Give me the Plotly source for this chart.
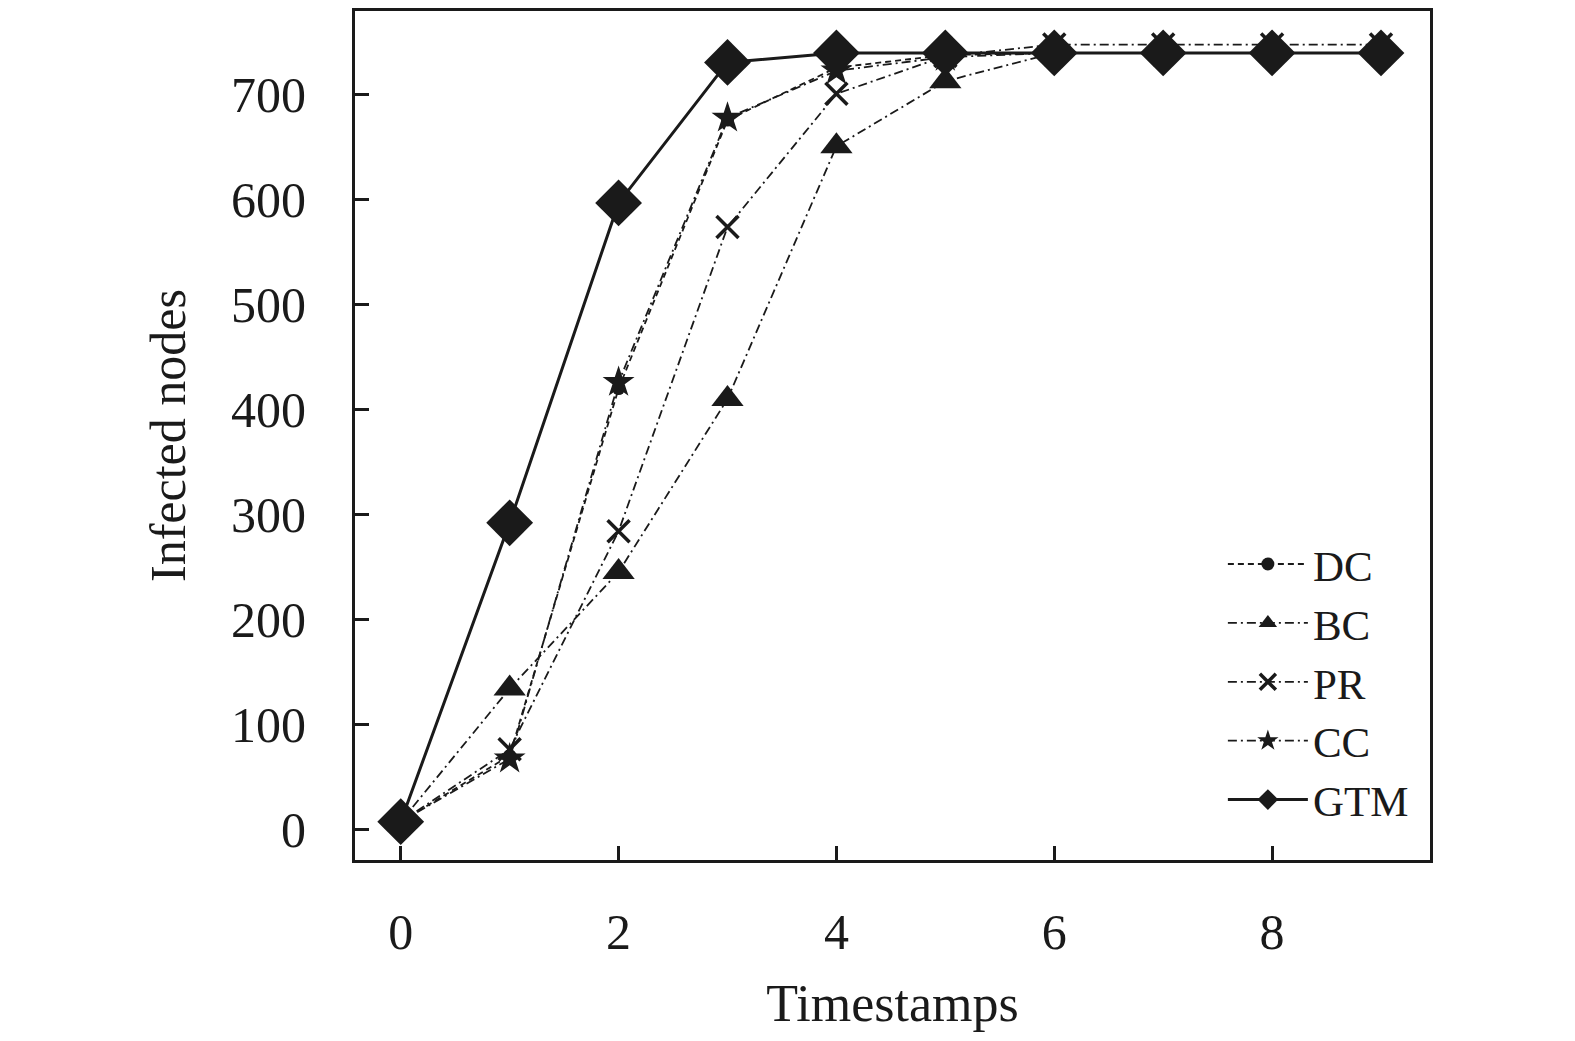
import plotly.graph_objects as go

timestamps = [0, 1, 2, 3, 4, 5, 6, 7, 8, 9]

dc = [7, 70, 420, 676, 726, 738, 740, 740, 740, 740]
bc = [7, 134, 245, 410, 651, 713, 740, 740, 740, 740]
pr = [7, 76, 284, 574, 701, 737, 748, 748, 748, 748]
cc = [7, 67, 426, 678, 723, 736, 740, 740, 740, 740]
gtm = [7, 292, 597, 731, 740, 740, 740, 740, 740, 740]

font = "Liberation Serif, Times New Roman, serif"
ink = "#1a1a1a"

series = [
    ("DC", dc, "6px,4px", 1.8, "circle", 13),
    ("BC", bc, "9px,4px,2px,4px", 1.8, "triangle-up", 28),
    ("PR", pr, "9px,4px,2px,4px", 1.8, "x-thin-open", 22),
    ("CC", cc, "9px,4px,2px,4px", 1.8, "star", 24),
    ("GTM", gtm, "solid", 3, "diamond", 36),
]

fig = go.Figure()
for name, vals, dash, w, sym, size in series:
    fig.add_trace(go.Scatter(
        x=timestamps, y=vals, name=name, mode="lines+markers",
        line=dict(color=ink, width=w, dash=dash),
        marker=dict(symbol=sym, size=size, color=ink,
                    line=dict(color=ink, width=3.5 if sym == "x-thin-open" else 0)),
    ))

axis_common = dict(
    showline=True, linecolor=ink, linewidth=3, mirror=True,
    ticks="inside", ticklen=14, tickwidth=3, tickcolor=ink,
    showgrid=False, zeroline=False,
    tickfont=dict(family=font, size=50, color=ink),
)

fig.update_layout(
    width=1575, height=1041,
    margin=dict(l=347, r=153, t=0, b=189),
    plot_bgcolor="white", paper_bgcolor="white",
    showlegend=True,
    legend=dict(x=0.985, y=0.03, xanchor="right", yanchor="bottom",
                font=dict(family=font, size=43, color=ink),
                itemwidth=80, tracegroupgap=0, bgcolor="rgba(0,0,0,0)"),
    xaxis=dict(range=[-0.42, 9.45], tickvals=[0, 2, 4, 6, 8],
               title=dict(text="Timestamps", font=dict(family=font, size=52, color=ink),
                          standoff=26),
               ticklabelstandoff=26, **axis_common),
    yaxis=dict(range=[-29.5, 780], tickvals=[0, 100, 200, 300, 400, 500, 600, 700],
               title=dict(text="Infected nodes", font=dict(family=font, size=50, color=ink),
                          standoff=30),
               ticklabelstandoff=36, **axis_common),
)

fig.write_html("out.html")
